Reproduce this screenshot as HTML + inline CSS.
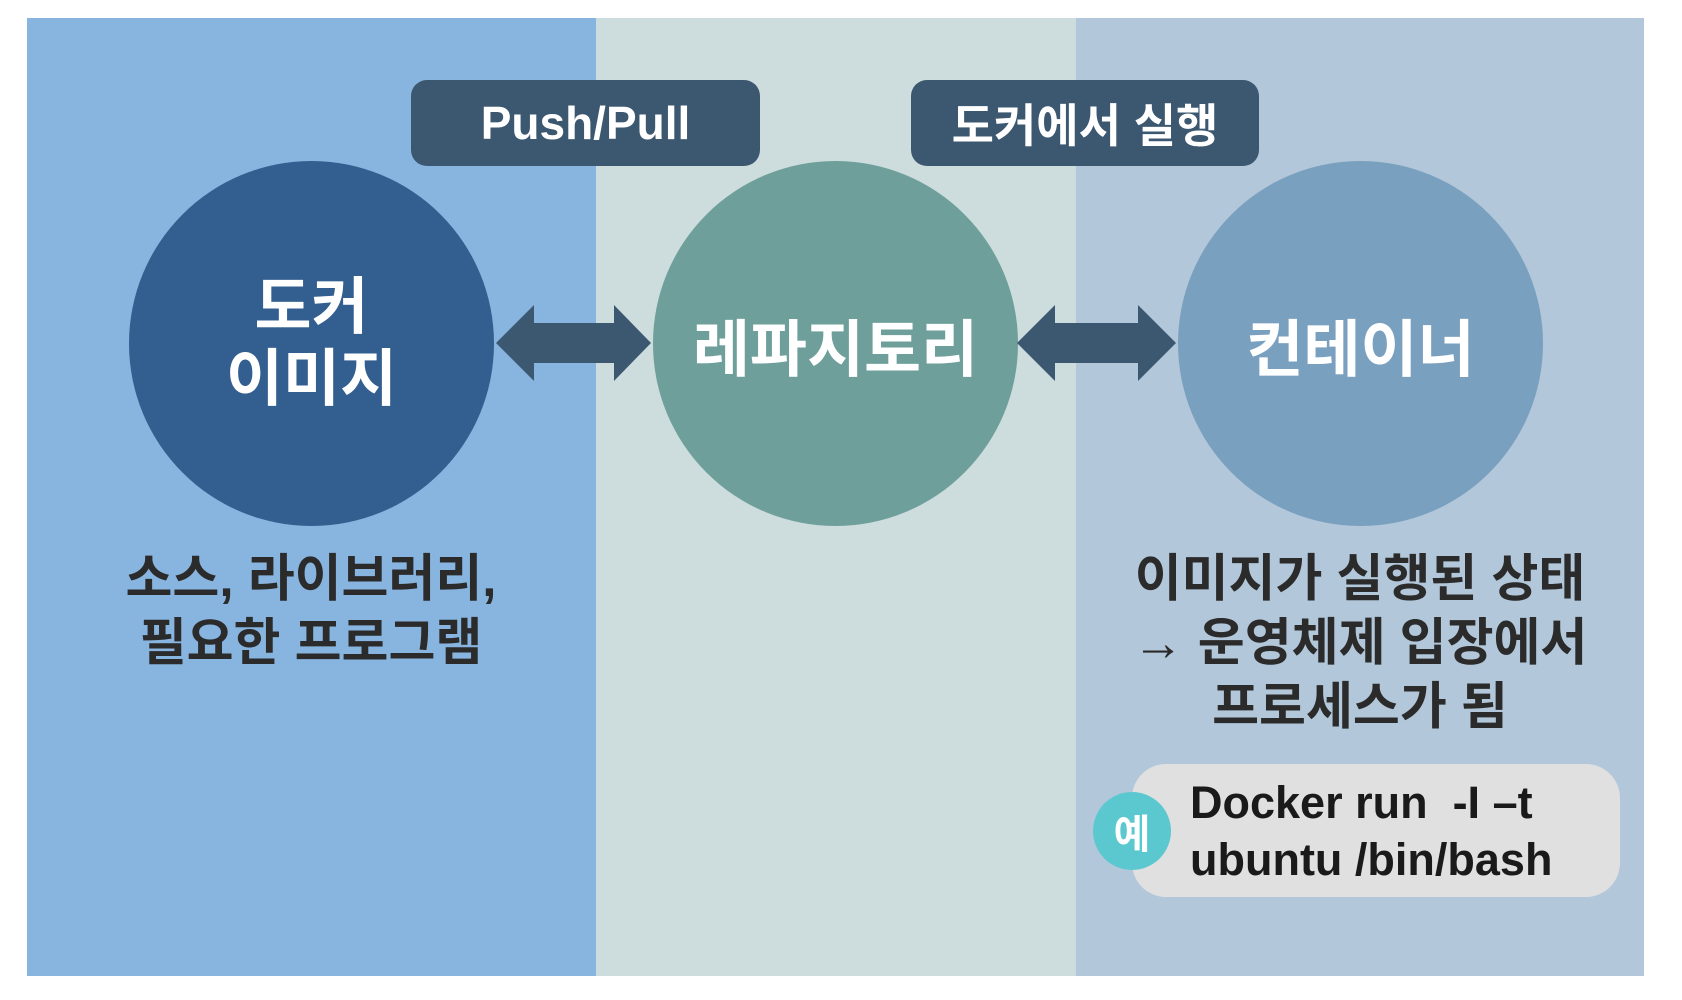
<!DOCTYPE html>
<html><head><meta charset="utf-8"><style>
html,body{margin:0;padding:0;}
body{width:1682px;height:1000px;background:#fff;position:relative;overflow:hidden;font-family:"Liberation Sans","Noto Sans CJK KR",sans-serif;}
div{position:absolute;box-sizing:border-box;}
.panel{top:18px;height:958px;}
.circle{border-radius:50%;display:flex;align-items:center;justify-content:center;color:#fff;font-weight:bold;text-align:center;}
.label{background:#3c5870;color:#fff;font-weight:bold;font-size:46px;border-radius:16px;display:flex;align-items:center;justify-content:center;}
.txt{color:#2b2b2b;font-weight:bold;font-size:51px;text-align:center;line-height:64px;}
</style></head><body>
<div class="panel" style="left:27px;width:569px;background:#88b5e0"></div>
<div class="panel" style="left:596px;width:480px;background:#cddcdc"></div>
<div class="panel" style="left:1076px;width:568px;background:#b2c7d9"></div>

<div class="label" style="left:411px;top:80px;width:349px;height:86px;">Push/Pull</div>
<div class="label" style="left:911px;top:80px;width:348px;height:86px;">도커에서 실행</div>

<div class="circle" style="left:129px;top:161px;width:365px;height:365px;background:#325f8f;font-size:62px;line-height:72px;">도커<br>이미지</div>
<div class="circle" style="left:653px;top:161px;width:365px;height:365px;background:#6e9f9b;font-size:62px;">레파지토리</div>
<div class="circle" style="left:1178px;top:161px;width:365px;height:365px;background:#7aa0bf;font-size:62px;">컨테이너</div>

<svg style="position:absolute;left:0;top:0" width="1682" height="1000">
<polygon fill="#3c5870" points="496,343 534,305 534,323 614,323 614,305 651,343 614,381 614,363 534,363 534,381"/>
<polygon fill="#3c5870" points="1017,343 1055,305 1055,323 1138,323 1138,305 1176,343 1138,381 1138,363 1055,363 1055,381"/>
</svg>

<div class="txt" style="left:60px;top:547px;width:502px;">소스, 라이브러리,<br>필요한 프로그램</div>
<div class="txt" style="left:1090px;top:547px;width:540px;">이미지가 실행된 상태<br>→ 운영체제 입장에서<br>프로세스가 됨</div>

<div style="left:1132px;top:764px;width:488px;height:133px;background:#e0e0e0;border-radius:34px;"></div>
<div class="circle" style="left:1093px;top:792px;width:78px;height:78px;background:#5bc8d0;font-size:40px;">예</div>
<div style="left:1190px;top:774px;color:#1a1a1a;font-weight:bold;font-size:45px;line-height:57px;white-space:pre;">Docker run  -I –t
ubuntu /bin/bash</div>
</body></html>
